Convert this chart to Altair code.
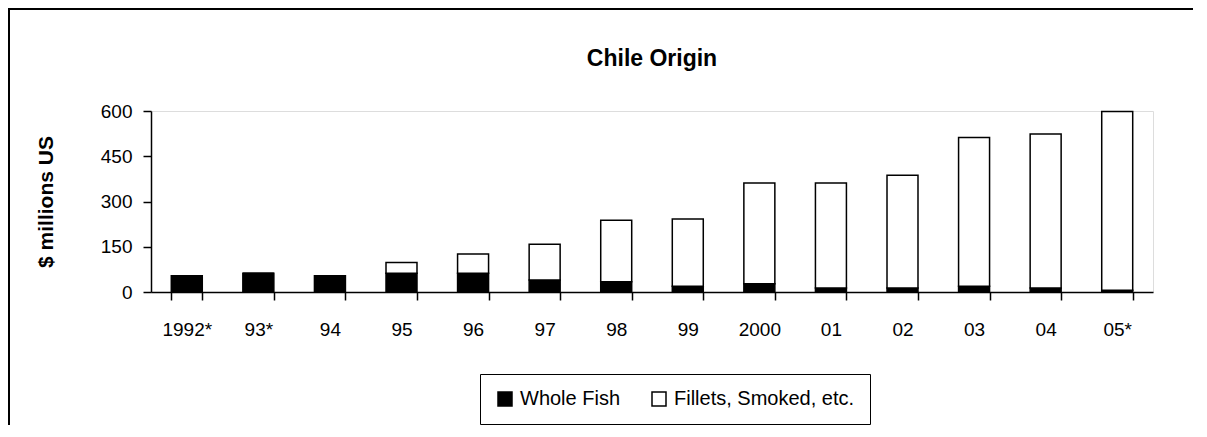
import altair as alt
import pandas as pd

years = ["1992*", "93*", "94", "95", "96", "97", "98", "99", "2000", "01", "02", "03", "04", "05*"]
whole_fish = [54, 62, 54, 62, 62, 40, 34, 19, 27, 13, 13, 19, 13, 6]
fillets = [0, 0, 0, 36, 64, 118, 204, 223, 334, 348, 374, 493, 511, 592]
series = ["Whole Fish", "Fillets, Smoked, etc."]
fills = ["black", "white"]
y_ticks = [0, 150, 300, 450, 600]

rows = []
for i, yr in enumerate(years):
    rows.append({"year": yr, "series": series[0], "value": whole_fish[i], "ord": 0})
    rows.append({"year": yr, "series": series[1], "value": fillets[i], "ord": 1})
df = pd.DataFrame(rows)

FONT = "Liberation Sans"
W, H = 1002, 181
PL, PT = 143, 103
PR, PB = 40, 133

bars = alt.Chart(df).mark_bar(stroke="black", strokeWidth=1.5).encode(
    x=alt.X(
        "year:N",
        sort=years,
        scale=alt.Scale(paddingInner=0.567, paddingOuter=0.2835),
        axis=alt.Axis(
            title=None,
            labelAngle=0,
            tickBand="extent",
            labelFont=FONT,
            labelFontSize=19,
            labelColor="black",
            labelPadding=20,
            tickSize=8,
            tickColor="black",
            tickWidth=1.5,
            domainColor="black",
            domainWidth=1.5,
        ),
    ),
    y=alt.Y(
        "value:Q",
        stack="zero",
        scale=alt.Scale(domain=[0, 600], nice=False),
        axis=alt.Axis(
            values=y_ticks,
            title="$ millions US",
            titleFont=FONT,
            titleFontSize=21,
            titleFontWeight="bold",
            titleColor="black",
            titlePadding=44,
            labelFont=FONT,
            labelFontSize=19,
            labelColor="black",
            labelPadding=11,
            tickSize=8,
            tickColor="black",
            tickWidth=1.5,
            domainColor="black",
            domainWidth=1.5,
            grid=False,
        ),
    ),
    fill=alt.Fill(
        "series:N",
        sort=series,
        scale=alt.Scale(domain=series, range=fills),
        legend=alt.Legend(
            title=None,
            orient="none",
            direction="horizontal",
            legendX=329,
            legendY=263,
            symbolType="square",
            symbolSize=196,
            symbolStrokeColor="black",
            symbolStrokeWidth=1.5,
            labelFont=FONT,
            labelFontSize=20,
            labelColor="black",
            labelOffset=5,
            labelLimit=400,
            columnPadding=28,
            padding=15,
            strokeColor="black",
            fillColor="white",
        ),
    ),
    order=alt.Order("ord:Q"),
)

border_top = alt.Chart(df).mark_rule(color="black", strokeWidth=1.5).encode(
    x=alt.value(-PL + 0.5), x2=alt.value(W + PR), y=alt.value(-PT + 0.5)
)
border_left = alt.Chart(df).mark_rule(color="black", strokeWidth=1.5).encode(
    x=alt.value(-PL + 0.5), y=alt.value(-PT + 0.5), y2=alt.value(H + PB)
)

chart = alt.layer(bars, border_top, border_left).properties(
    width=W,
    height=H,
    title=alt.Title("Chile Origin", font=FONT, fontSize=23, fontWeight="bold", color="black", offset=-63, anchor="middle"),
    padding={"left": PL, "top": PT, "right": PR, "bottom": PB},
    autosize=alt.AutoSizeParams(type="none"),
).configure_view(stroke=None).configure(background="white")

chart.save("out.html", embed_options={"renderer": "svg", "actions": False})
